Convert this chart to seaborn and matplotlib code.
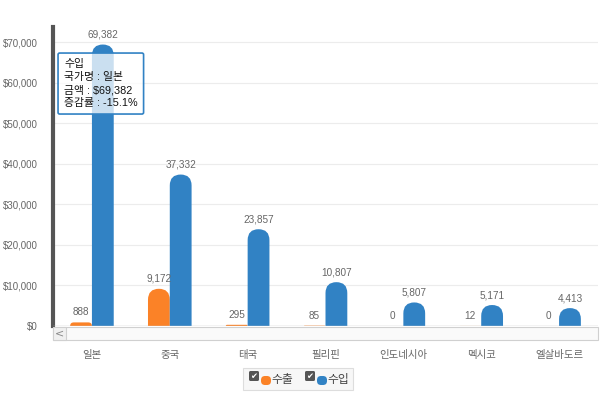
import numpy as np
import pandas as pd
import matplotlib
matplotlib.use("Agg")
import matplotlib.pyplot as plt
import seaborn as sns
from matplotlib.patches import FancyBboxPatch, Rectangle
from matplotlib.ticker import FuncFormatter

countries = ['일본', '중국', '태국', '필리핀', '인도네시아', '멕시코', '엘살바도르']
export_vals = [888, 9172, 295, 85, 0, 12, 0]
import_vals = [69382, 37332, 23857, 10807, 5807, 5171, 4413]
series = ['수출', '수입']
colors = {'수출': '#fb8227', '수입': '#3182c4'}

df = pd.DataFrame({
    '국가': countries * 2,
    '구분': ['수출'] * len(countries) + ['수입'] * len(countries),
    '금액': export_vals + import_vals,
})

sns.set_theme(style='white')
plt.rcParams['font.family'] = ['Liberation Sans', 'Noto Sans CJK KR', 'DejaVu Sans']

fig = plt.figure(figsize=(6, 4), dpi=100)
ax = fig.add_axes([53 / 600, 74 / 400, 545 / 600, 299 / 400])

sns.barplot(data=df, x='국가', y='금액', hue='구분', hue_order=series,
            palette=colors, width=0.56, ax=ax, legend=False, saturation=1)

ymax = 73700
ax.set_xlim(-0.5, len(countries) - 0.5)
ax.set_ylim(0, ymax)

# rounded tops
x_per_px = len(countries) / 545
y_per_px = ymax / 299
aspect = y_per_px / x_per_px
for p in list(ax.patches):
    x, w, h = p.get_x(), p.get_width(), p.get_height()
    fc = p.get_facecolor()
    p.remove()
    if h <= 0:
        continue
    r = min(w / 2, max(h, y_per_px) / aspect)
    rb = FancyBboxPatch((x, -r * aspect), w, h + r * aspect,
                        boxstyle=f'round,pad=0,rounding_size={r}',
                        mutation_aspect=aspect, facecolor=fc,
                        edgecolor='none', clip_on=True, zorder=3)
    ax.add_patch(rb)
    ax.text(x + w / 2, h + 5 * y_per_px, f'{h:,.0f}', ha='center',
            va='bottom', fontsize=7.2, color='#666666', zorder=4)

# zero labels for empty export bars
for i, v in enumerate(export_vals):
    if v == 0:
        ax.text(i - 0.14, 5 * y_per_px, '0', ha='center', va='bottom',
                fontsize=7.2, color='#666666', zorder=4)

ax.set_yticks(np.arange(0, 70001, 10000))
ax.yaxis.set_major_formatter(FuncFormatter(lambda v, _: f'${v:,.0f}'))
ax.tick_params(axis='y', labelsize=7, colors='#666666', length=0, pad=11)
ax.tick_params(axis='x', labelsize=7.5, colors='#666666', length=0, pad=17)
ax.grid(axis='y', color='#ececec', linewidth=0.8, zorder=0)
ax.set_axisbelow(True)
ax.set_xlabel('')
ax.set_ylabel('')
for s in ['top', 'right', 'bottom']:
    ax.spines[s].set_visible(False)
ax.spines['left'].set_color('#555555')
ax.spines['left'].set_linewidth(3)

# scrollbar under the plot
fig.patches.append(Rectangle((53 / 600, 60 / 400), 545 / 600, 13 / 400,
                             transform=fig.transFigure, facecolor='#fafafa',
                             edgecolor='#d0d0d0', linewidth=0.8))
fig.patches.append(Rectangle((53 / 600, 60 / 400), 13 / 600, 13 / 400,
                             transform=fig.transFigure, facecolor='#f0f0f0',
                             edgecolor='#d0d0d0', linewidth=0.8))
fig.text(59.5 / 600, 66.5 / 400, '<', ha='center', va='center', fontsize=8,
         color='#888888', family='DejaVu Sans')
ax.axhline(0, color='#cccccc', linewidth=1, zorder=5)

# tooltip
tip = '수입\n국가명 : 일본\n금액 : $69,382\n증감률 : -15.1%'
ax.text(11 / 545, 1 - 32 / 299, tip, transform=ax.transAxes,
        ha='left', va='top', fontsize=7.8, color='#111111', linespacing=1.35,
        zorder=10,
        bbox=dict(boxstyle='round,pad=0.55,rounding_size=0.15',
                  facecolor=(1, 1, 1, 0.75), edgecolor='#3182c4',
                  linewidth=1.2))

# legend
fig.patches.append(Rectangle((243 / 600, 10 / 400), 110 / 600, 22 / 400,
                             transform=fig.transFigure, facecolor='#f7f7f7',
                             edgecolor='#dddddd', linewidth=0.8))
leg_x = [249, 305]
for lx, name in zip(leg_x, series):
    fig.patches.append(FancyBboxPatch((lx / 100, 0.19), 0.10, 0.10,
                                      boxstyle='round,pad=0,rounding_size=0.015',
                                      transform=fig.dpi_scale_trans,
                                      facecolor='#555555', edgecolor='none'))
    fig.text((lx + 5) / 600, 24 / 400, '✔', ha='center', va='center',
             fontsize=6, color='white', family='DejaVu Sans')
    fig.patches.append(FancyBboxPatch(((lx + 12) / 100, 0.15), 0.10, 0.09,
                                      boxstyle='round,pad=0,rounding_size=0.04',
                                      transform=fig.dpi_scale_trans,
                                      facecolor=colors[name], edgecolor='none'))
    fig.text((lx + 22) / 600, 19.5 / 400, name, ha='left', va='center',
             fontsize=8.5, color='#444444')

fig.savefig('out.png', dpi=100)
